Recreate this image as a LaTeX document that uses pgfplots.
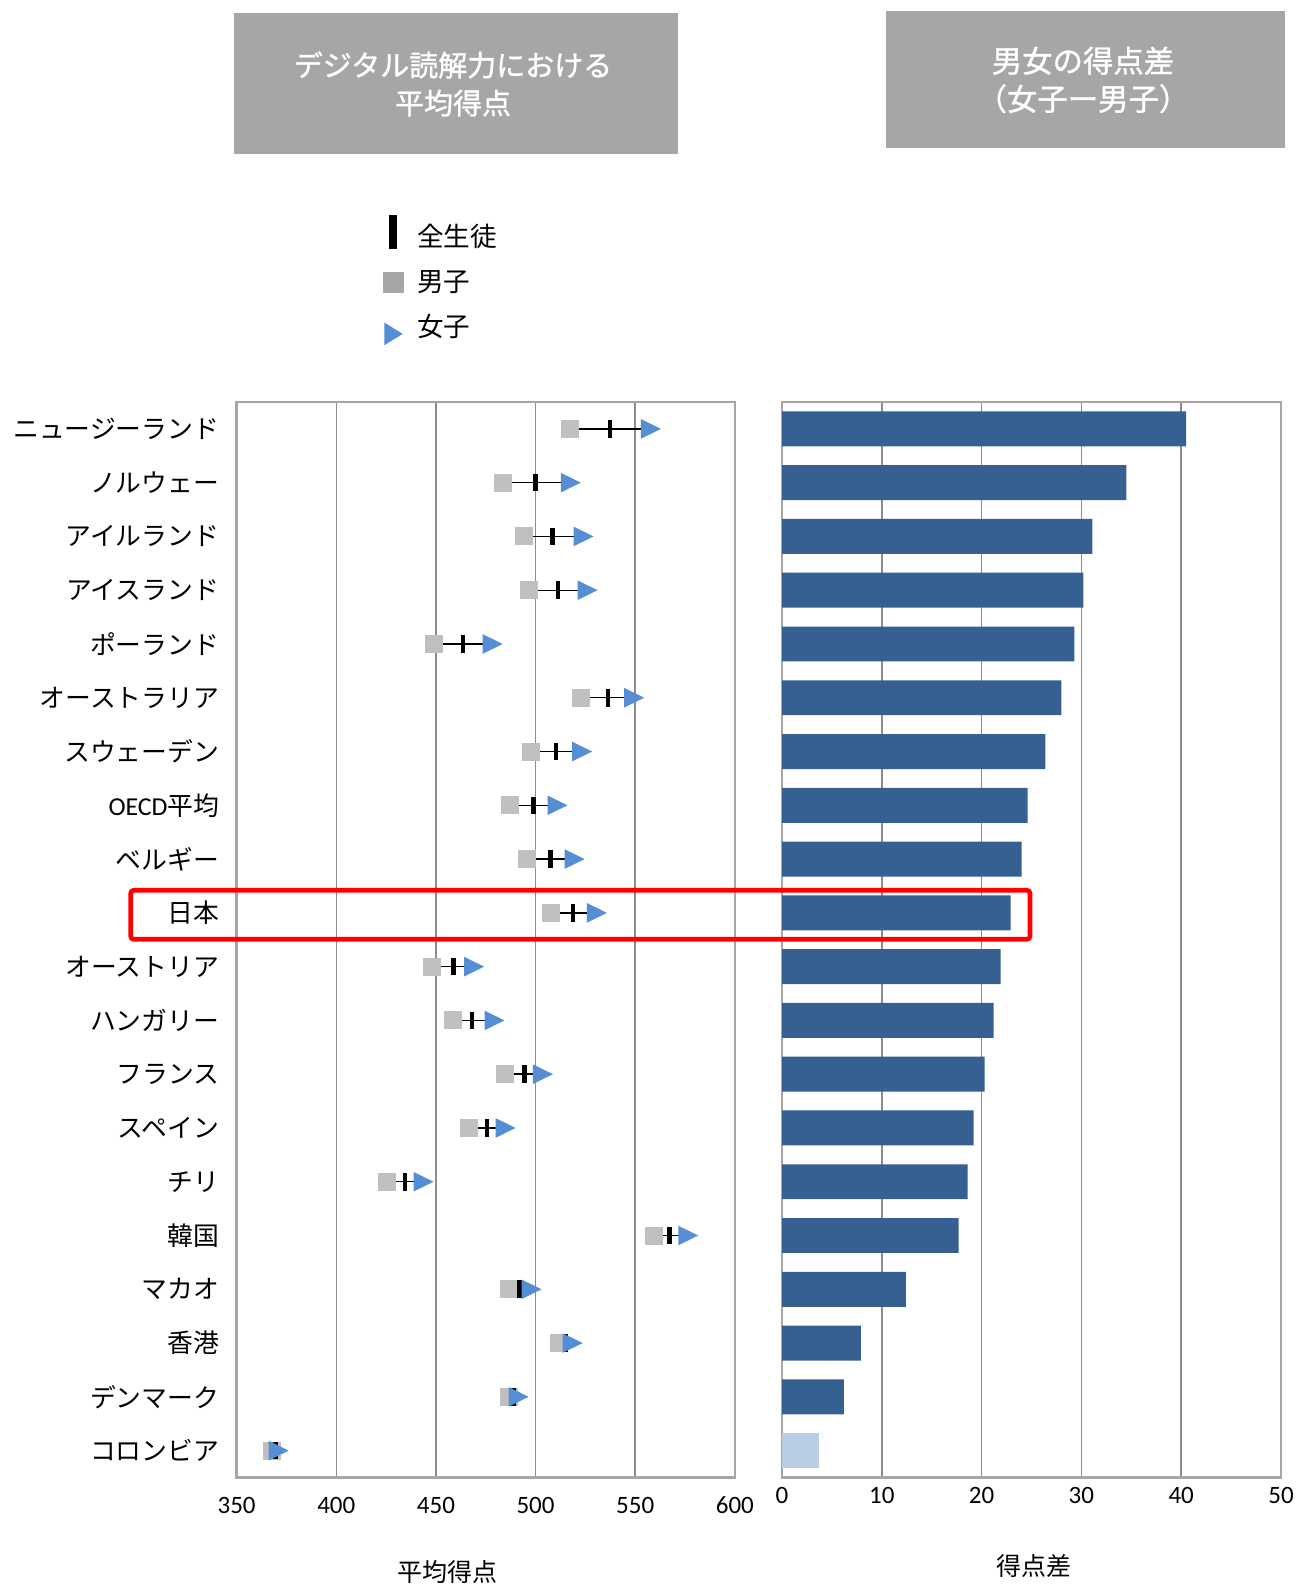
\documentclass[border=0pt]{standalone}
\usepackage{fontspec}
\setmainfont{Carlito}
\newfontfamily\cjk{Noto Sans CJK JP}
\newfontfamily\cjkm[FakeBold=1.2]{Noto Sans CJK JP}
\newfontfamily\lat{Carlito}
\usepackage{pgfplots}
\pgfplotsset{compat=1.18}
\usepackage{pgfplotstable}

\definecolor{boyc}{HTML}{BFBFBF}
\definecolor{girlc}{HTML}{558ED5}
\definecolor{barc}{HTML}{376092}
\definecolor{barl}{HTML}{B9CDE5}
\definecolor{gridc}{HTML}{8C8C8C}
\definecolor{framec}{HTML}{A6A6A6}
\definecolor{titlec}{HTML}{A6A6A6}
\definecolor{legboy}{HTML}{A6A6A6}

\pgfdeclareplotmark{rtri}{%
  \pgfpathmoveto{\pgfqpoint{-5pt}{-4.9pt}}%
  \pgfpathlineto{\pgfqpoint{-5pt}{4.9pt}}%
  \pgfpathlineto{\pgfqpoint{5pt}{0pt}}%
  \pgfpathclose\pgfusepathqfill}
\pgfdeclareplotmark{vbar}{%
  \pgfpathrectangle{\pgfqpoint{-1.15pt}{-4.4pt}}{\pgfqpoint{2.3pt}{8.8pt}}%
  \pgfusepathqfill}
\pgfdeclareplotmark{sq}{%
  \pgfpathrectangle{\pgfqpoint{-4.5pt}{-4.5pt}}{\pgfqpoint{9pt}{9pt}}%
  \pgfusepathqfill}

% y: 20 = New Zealand (top) ... 1 = Colombia (bottom)
\pgfplotstableread{
y boy all girl
20 517.2 537.3 557.9
19 483.6 500.0 517.7
18 494.0 508.4 524.1
17 496.7 511.2 526.1
16 449.0 463.5 478.5
15 522.8 536.3 549.5
14 497.7 510.2 523.4
13 487.3 499.0 511.0
12 495.8 507.4 519.6
11 507.9 518.7 530.8
10 448.2 458.9 469.2
9 458.4 468.2 479.4
8 484.5 494.3 503.7
7 466.8 475.6 485.0
6 425.7 434.4 443.8
5 559.3 567.2 576.6
4 486.5 491.8 498.0
3 511.6 515.0 518.6
2 486.5 489.0 491.5
1 367.8 369.5 371.1
}\scores

\pgfplotstableread{
x y
517.2 20
557.9 20
nan nan
483.6 19
517.7 19
nan nan
494.0 18
524.1 18
nan nan
496.7 17
526.1 17
nan nan
449.0 16
478.5 16
nan nan
522.8 15
549.5 15
nan nan
497.7 14
523.4 14
nan nan
487.3 13
511.0 13
nan nan
495.8 12
519.6 12
nan nan
507.9 11
530.8 11
nan nan
448.2 10
469.2 10
nan nan
458.4 9
479.4 9
nan nan
484.5 8
503.7 8
nan nan
466.8 7
485.0 7
nan nan
425.7 6
443.8 6
nan nan
559.3 5
576.6 5
nan nan
486.5 4
498.0 4
nan nan
511.6 3
518.6 3
nan nan
486.5 2
491.5 2
nan nan
367.8 1
371.1 1
}\links

\pgfplotstableread{
y diff
20 40.5
19 34.5
18 31.1
17 30.2
16 29.3
15 28.0
14 26.4
13 24.6
12 24.0
11 22.9
10 21.9
9 21.2
8 20.3
7 19.2
6 18.6
5 17.7
4 12.4
3 7.9
2 6.2
}\gap

\begin{document}
\begin{tikzpicture}
\useasboundingbox (0,0) rectangle (648.5pt,793.5pt);

% title boxes
\fill[titlec] (117pt,716.35pt) rectangle (338.85pt,787.15pt);
\node[text=white, font=\cjkm\fontsize{14.5}{19}\selectfont, align=center, inner sep=0pt]
  at (226.5pt,751.5pt) {デジタル読解力における\\平均得点};
\fill[titlec] (443pt,719.65pt) rectangle (642.5pt,788.15pt);
\node[text=white, font=\cjkm\fontsize{15.2}{19}\selectfont, align=center, inner sep=0pt]
  at (541.5pt,753.5pt) {男女の得点差\\（女子ー男子）};

% left panel: mean scores
\begin{axis}[
  at={(118.3pt,54.75pt)}, anchor=south west,
  scale only axis, width=249.15pt, height=537.75pt,
  xmin=350, xmax=600, ymin=0.5, ymax=20.5,
  xtick={350,400,450,500,550,600},
  ytick={1,...,20},
  yticklabels={コロンビア,デンマーク,香港,マカオ,韓国,チリ,スペイン,フランス,ハンガリー,オーストリア,日本,ベルギー,{\lat OECD}平均,スウェーデン,オーストラリア,ポーランド,アイスランド,アイルランド,ノルウェー,ニュージーランド},
  xmajorgrids, major grid style={gridc, line width=0.75pt},
  axis line style={framec, line width=1.2pt},
  tick style={draw=none},
  /pgf/number format/assume math mode=true,
  xticklabel style={font=\lat\fontsize{12.5}{14}\selectfont, anchor=center, yshift=-13.75pt},
  yticklabel style={font=\cjk\fontsize{12.9}{14}\selectfont, anchor=east, inner sep=0pt, xshift=-8.5pt},
  legend style={at={(axis description cs:0.2938,1.1655)}, anchor=north west,
    draw=none, fill=none, inner sep=0pt, row sep=8.5pt, column sep=7pt,
    font=\cjk\fontsize{13.3}{16}\selectfont,
    nodes={inner sep=0pt, text height=11pt, text depth=3pt}},
  legend cell align=left,
]
\addlegendimage{legend image code/.code={\path[draw=none, fill=none] (0pt,-7pt) rectangle (10pt,7pt);
   \begin{scope}[overlay, shift={(5pt,3.5pt)}]\fill[black] (-1.75pt,-8.25pt) rectangle (1.75pt,8.25pt);\end{scope}}}
\addlegendentry{全生徒}
\addlegendimage{legend image code/.code={\path[draw=none, fill=none] (0pt,-7pt) rectangle (10pt,7pt);
   \begin{scope}[overlay, shift={(5pt,0.5pt)}]\fill[legboy] (-5pt,-5pt) rectangle (5pt,5pt);\end{scope}}}
\addlegendentry{男子}
\addlegendimage{legend image code/.code={\path[draw=none, fill=none] (0pt,-7pt) rectangle (10pt,7pt);
   \begin{scope}[overlay, shift={(5pt,-2.75pt)}]\fill[girlc] (-4.25pt,-5.25pt) -- (-4.25pt,5.25pt) -- (4.25pt,0pt) -- cycle;\end{scope}}}
\addlegendentry{女子}

\addplot[black, line width=0.7pt, unbounded coords=jump, forget plot] table[x=x, y=y] {\links};
\addplot[only marks, color=boyc, mark=sq, forget plot]
  table[x=boy, y=y] {\scores};
\addplot[only marks, color=black, mark=vbar, forget plot]
  table[x=all, y=y] {\scores};
\addplot[only marks, color=girlc, mark=rtri, forget plot]
  table[x=girl, y=y] {\scores};
\end{axis}

% right panel: gender gap
\begin{axis}[
  at={(391pt,54.75pt)}, anchor=south west,
  scale only axis, width=249.5pt, height=537.75pt,
  xmin=0, xmax=50, ymin=0.5, ymax=20.5,
  xtick={0,10,20,30,40,50}, ytick=\empty,
  xbar, bar width=0.65,
  xmajorgrids, major grid style={gridc, line width=0.75pt},
  axis line style={framec, line width=1.2pt},
  tick style={draw=none},
  /pgf/number format/assume math mode=true,
  xticklabel style={font=\lat\fontsize{12.5}{14}\selectfont, anchor=center, yshift=-8.75pt},
]
\addplot[fill=barc, draw=none, bar shift=0pt] table[x=diff, y=y] {\gap};
\addplot[fill=barl, draw=none, bar shift=0pt] coordinates {(3.7,1)};
\end{axis}

% axis titles
\node[font=\cjk\fontsize{12.5}{14}\selectfont] at (223.5pt,7.6pt) {平均得点};
\node[font=\cjk\fontsize{12.5}{14}\selectfont] at (517pt,10.5pt) {得点差};

% highlight Japan
\draw[red, line width=2.3pt, rounded corners=1.5pt] (65.35pt,323.85pt) rectangle (515pt,348.35pt);
\end{tikzpicture}
\end{document}
